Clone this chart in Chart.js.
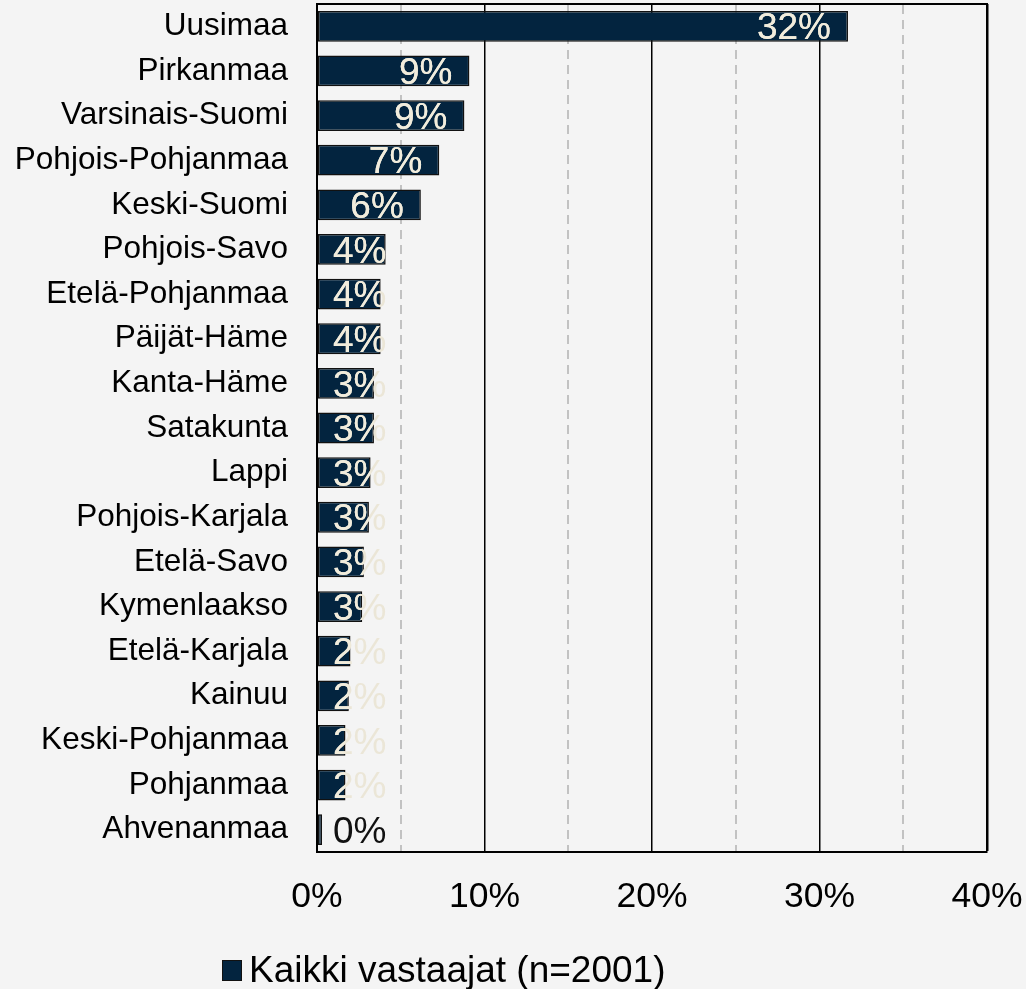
<!DOCTYPE html>
<html>
<head>
<meta charset="utf-8">
<script src="https://cdn.jsdelivr.net/npm/chart.js@4"></script>
<style>
  html, body { margin: 0; padding: 0; background: #f4f4f4; }
  canvas { display: block; }
</style>
</head>
<body>
<canvas id="c" width="1026" height="989"></canvas>
<script>
const categories = ["Uusimaa","Pirkanmaa","Varsinais-Suomi","Pohjois-Pohjanmaa","Keski-Suomi","Pohjois-Savo","Etelä-Pohjanmaa","Päijät-Häme","Kanta-Häme","Satakunta","Lappi","Pohjois-Karjala","Etelä-Savo","Kymenlaakso","Etelä-Karjala","Kainuu","Keski-Pohjanmaa","Pohjanmaa","Ahvenanmaa"];
const values = [31.7, 9.1, 8.8, 7.3, 6.2, 4.1, 3.8, 3.8, 3.4, 3.4, 3.2, 3.1, 2.8, 2.7, 2.0, 1.9, 1.7, 1.7, 0.3];
const seriesName = "Kaikki vastaajat (n=2001)";
const xTicks = [0, 10, 20, 30, 40];

const FONT = "'Liberation Sans', Arial, sans-serif";
const BAR = "#03243f";

const bgPlugin = {
  id: 'bg',
  beforeDraw(chart) {
    const c = chart.ctx;
    c.save();
    c.fillStyle = '#f4f4f4';
    c.fillRect(0, 0, chart.width, chart.height);
    c.restore();
  }
};

const labelPlugin = {
  id: 'barLabels',
  afterDatasetsDraw(chart) {
    const c = chart.ctx;
    const meta = chart.getDatasetMeta(0);
    const area = chart.chartArea;
    const size = 37;
    c.save();
    c.font = size + "px " + FONT;
    c.textAlign = 'left';
    c.textBaseline = 'alphabetic';
    meta.data.forEach((bar, i) => {
      const txt = Math.round(values[i]) + '%';
      const w = c.measureText(txt).width;
      const left = Math.max(bar.x - 17 - w, area.left + 16);
      const y = bar.y + size * 0.355;
      const barW = bar.x - bar.base;
      if (barW < 10) {
        c.fillStyle = '#111';
        c.fillText(txt, left, y);
        return;
      }
      c.fillStyle = '#ebe6d7';
      c.fillText(txt, left, y);
      c.save();
      c.beginPath();
      c.rect(bar.base, bar.y - bar.height / 2, barW, bar.height);
      c.clip();
      c.fillStyle = '#f1ecdc';
      c.fillText(txt, left, y);
      c.restore();
    });
    c.restore();
  }
};

const legendPlugin = {
  id: 'customLegend',
  afterDraw(chart) {
    const c = chart.ctx;
    c.save();
    c.fillStyle = BAR;
    c.strokeStyle = '#111';
    c.lineWidth = 1;
    c.fillRect(222, 960, 20, 21);
    c.strokeRect(222.5, 960.5, 19, 20);
    c.fillStyle = '#000';
    c.font = "37px " + FONT;
    c.textBaseline = 'alphabetic';
    c.textAlign = 'left';
    c.fillText(seriesName, 249, 982);
    c.restore();
  }
};

new Chart(document.getElementById('c'), {
  type: 'bar',
  data: {
    labels: categories,
    datasets: [{
      label: seriesName,
      data: values,
      backgroundColor: BAR,
      borderColor: '#111',
      borderWidth: 1.5,
      borderSkipped: false,
      barPercentage: 0.69,
      categoryPercentage: 1.0
    }]
  },
  options: {
    indexAxis: 'y',
    responsive: false,
    devicePixelRatio: 1,
    animation: false,
    layout: { padding: { left: 0, right: 39, top: 4, bottom: 57 } },
    plugins: { legend: { display: false }, tooltip: { enabled: false } },
    scales: {
      y: {
        type: 'category',
        grid: { display: false, drawTicks: false },
        border: { display: true, color: '#000', width: 2 },
        ticks: { color: '#000', font: { family: FONT, size: 31.5 }, padding: 29 },
        afterFit(s) { s.width = 317; s.paddingTop = 0; s.paddingBottom = 0; }
      },
      x2: {
        type: 'linear',
        position: 'top',
        min: 0, max: 40,
        ticks: { display: false, stepSize: 5 },
        grid: {
          drawTicks: false,
          color: ctx => (ctx.tick && ctx.tick.value % 10 === 0) ? 'rgba(0,0,0,0)' : '#c2c2c2',
          lineWidth: 2
        },
        border: { display: true, color: '#000', width: 2, dash: [9, 6] },
        afterFit(s) { s.height = 0; s.paddingLeft = 0; s.paddingRight = 0; }
      },
      x: {
        type: 'linear',
        position: 'bottom',
        min: 0, max: 40,
        afterBuildTicks(s) { s.ticks = xTicks.map(v => ({ value: v })); },
        ticks: {
          color: '#000',
          font: { family: FONT, size: 35.5 },
          padding: 24,
          callback: v => v + '%'
        },
        grid: {
          drawTicks: false,
          color: '#000',
          lineWidth: ctx => (ctx.tick && ctx.tick.value === 40) ? 2.5 : 1.5
        },
        border: { display: true, color: '#000', width: 2 },
        afterFit(s) { s.height = 80; s.paddingLeft = 0; s.paddingRight = 0; }
      }
    }
  },
  plugins: [bgPlugin, labelPlugin, legendPlugin]
});
</script>
</body>
</html>
